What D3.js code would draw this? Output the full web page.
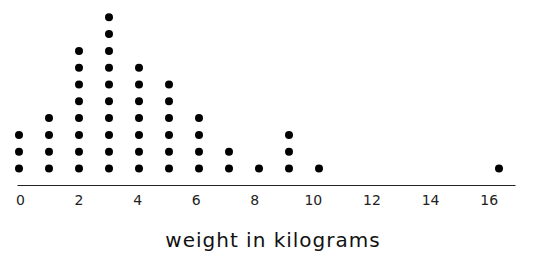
<!DOCTYPE html>
<html>
<head>
<meta charset="utf-8">
<script src="https://cdn.jsdelivr.net/npm/d3@7"></script>
<style>
  body { margin: 0; background: #fff; }
</style>
</head>
<body>
<div class="chart"></div>
<script>
const weights = [0, 1, 2, 3, 4, 5, 6, 7, 8, 9, 10, 16];
const counts = [3, 4, 8, 10, 7, 6, 4, 2, 1, 3, 1, 1];
const tickValues = [0, 2, 4, 6, 8, 10, 12, 14, 16];
const axisTitle = 'weight in kilograms';

const width = 538, height = 257;
const svg = d3.select('.chart').append('svg')
    .attr('width', width)
    .attr('height', height);

// one record per dot, stacked upward
const dots = [];
weights.forEach((w, i) => {
    for (let k = 0; k < counts[i]; k++) dots.push({weight: w, level: k});
});

const xScale = d3.scaleLinear()
    .domain([0, 16])
    .range([19, 499]);
// the printed tick labels sit on a slightly tighter spacing than the dots
const labelScale = d3.scaleLinear()
    .domain([-0.1, 16.9])
    .range([17, 515]);
const yScale = d3.scaleLinear()
    .domain([0, 1])
    .range([168.5, 151.7]);

const xAxis = d3.axisBottom(labelScale)
    .tickValues(tickValues)
    .tickSize(0)
    .tickPadding(10)
    .tickSizeOuter(0);
const gx = svg.append('g')
    .attr('class', 'axis x-axis')
    .attr('transform', 'translate(0,185)')
    .call(xAxis);
gx.attr('font-family', '"DejaVu Sans", sans-serif')
    .attr('font-size', 14);
gx.select('.domain').attr('stroke', '#222');
gx.selectAll('text').attr('fill', '#222');

svg.selectAll('circle')
    .data(dots)
    .enter()
    .append('circle')
    .attr('cx', d => xScale(d.weight))
    .attr('cy', d => yScale(d.level))
    .attr('r', 4)
    .attr('fill', '#000');

svg.append('text')
    .text(axisTitle)
    .attr('x', 273)
    .attr('y', 247)
    .attr('text-anchor', 'middle')
    .attr('font-family', '"DejaVu Sans", sans-serif')
    .attr('font-size', 20)
    .attr('letter-spacing', 1)
    .attr('fill', '#111');
</script>
</body>
</html>
